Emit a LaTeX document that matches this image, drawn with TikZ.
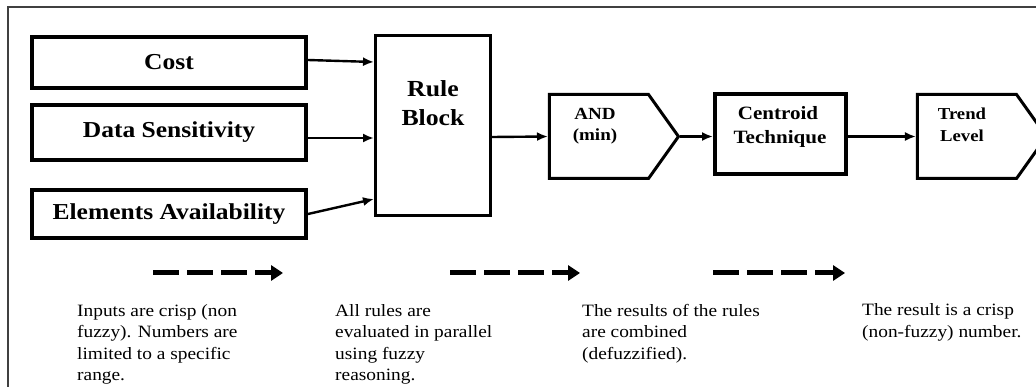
\documentclass[tikz,border=0pt]{standalone}
\usepackage{fontspec}
\setmainfont{Liberation Serif}[FakeStretch=1.12]
\usetikzlibrary{shapes.symbols,arrows.meta,calc}
\begin{document}
\begin{tikzpicture}[x=1pt,y=-1pt,
  inbox/.style={draw,line width=4pt,minimum width=274pt,inner sep=0pt,font=\fontsize{22.8}{26}\selectfont\bfseries},
  arr/.style={line width=2.4pt,-{Latex[length=11pt,width=9pt]}},
  pent/.style={draw,line width=3pt,signal,signal to=east,signal pointer angle=109,minimum width=129pt,minimum height=84pt,inner sep=0pt},
  lbl/.style={font=\fontsize{18}{21}\selectfont\bfseries,align=center,inner sep=0pt,anchor=base},
  note/.style={font=\fontsize{17.3}{21.5}\selectfont,align=left,inner sep=0pt,anchor=base west},
  darr/.style={line width=5pt,dash pattern=on 26pt off 8pt,-{Triangle[length=12pt,width=15pt]}}]
\useasboundingbox (0,0) rectangle (1036,387);
\draw[line width=1.5pt,black!75] (8,387) -- (8,7) -- (1036,7);
% inputs
\node[inbox,minimum height=51pt] (cost) at (169,62.5) {Cost};
\node[inbox,minimum height=55pt] (ds) at (169,132.5) {Data Sensitivity};
\node[inbox,minimum height=48pt] (ea) at (169,214) {Elements Availability};
% rule block
\node[draw,line width=3pt,minimum width=115pt,minimum height=180pt,inner sep=0pt] (rb) at (433,125.5) {};
\node[lbl,font=\fontsize{23}{28}\selectfont\bfseries] (rbt1) at (433,97) {Rule};
\node[lbl,font=\fontsize{23}{28}\selectfont\bfseries] (rbt2) at (433,126) {Block};
% AND
\node[pent] (and) at (599,136.5) {};
\node[lbl,font=\fontsize{17}{20}\selectfont\bfseries] (andt1) at (595,120) {AND};
\node[lbl,font=\fontsize{17}{20}\selectfont\bfseries] (andt2) at (595,141) {(min)};
% centroid
\node[draw,line width=4pt,minimum width=131pt,minimum height=80pt,inner sep=0pt] (cen) at (780.5,134) {};
\node[lbl,font=\fontsize{18.8}{22}\selectfont\bfseries] (cent1) at (778,120) {Centroid};
\node[lbl,font=\fontsize{18.8}{22}\selectfont\bfseries] (cent2) at (780,144) {Technique};
% trend
\node[pent] (tr) at (967,136.5) {};
\node[lbl,font=\fontsize{16.7}{20}\selectfont\bfseries] (trt1) at (962,120) {Trend};
\node[lbl,font=\fontsize{16.7}{20}\selectfont\bfseries] (trt2) at (962,142) {Level};
% connectors
\draw[arr] ([yshift=2.5pt]cost.east) -- ([yshift=63.5pt]rb.west);
\draw[arr] ([yshift=-5.5pt]ds.east) -- ([yshift=-12.5pt]rb.west);
\draw[arr] (ea.east) -- ([yshift=-73.5pt]rb.west);
\draw[arr] ([yshift=-11.5pt]rb.east) -- (and.west);
\draw[arr] (and.east) -- (and.east -| cen.west);
\draw[arr] (tr.west -| cen.east) -- (tr.west);
% dashed arrows
\coordinate (d1s) at (153,273); \coordinate (d1e) at (283,273);
\coordinate (d2s) at (450,273); \coordinate (d2e) at (580,273);
\coordinate (d3s) at (713,273); \coordinate (d3e) at (845,273);
\draw[darr] (d1s) -- (d1e);
\draw[darr] (d2s) -- (d2e);
\draw[darr] (d3s) -- (d3e);
% notes (anchor = baseline of last line)
\node[note] (n1) at (77,380.5) {Inputs are crisp (non\\fuzzy). Numbers are\\limited to a specific\\range.};
\node[note] (n2) at (335,380.5) {All rules are\\evaluated in parallel\\using fuzzy\\reasoning.};
\node[note] (n3) at (582,359) {The results of the rules\\are combined\\(defuzzified).};
\node[note] (n4) at (862,337.5) {The result is a crisp\\(non-fuzzy) number.};
\end{tikzpicture}
\end{document}
